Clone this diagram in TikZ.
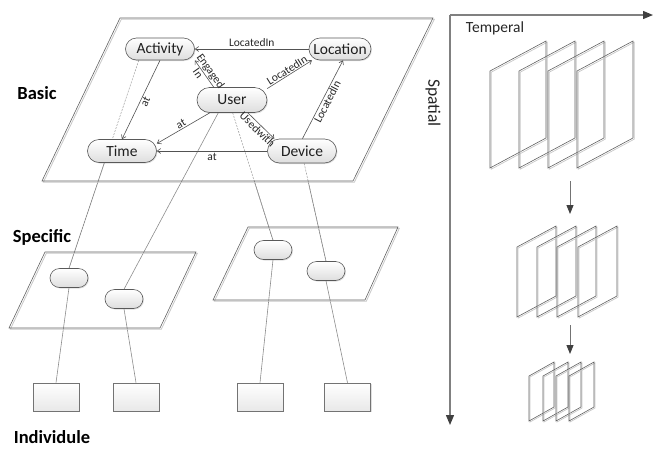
\documentclass[tikz,border=0pt]{standalone}
\usepackage{fontspec}
\setmainfont{Carlito}
\usetikzlibrary{arrows.meta,calc,shadows,backgrounds}

\tikzset{
  plane/.style={draw=black!62, line width=0.6pt},
  planeshadow/.style={draw=black!22, line width=0.8pt},
  concept/.style={draw=black!65, line width=0.6pt, top color=white, bottom color=black!13,
    text=black!88, font=\fontsize{15.5}{17}\selectfont, inner sep=0pt,
    drop shadow={opacity=0.25, shadow xshift=1pt, shadow yshift=-1pt}},
  slot/.style={draw=black!65, line width=0.6pt, top color=white, bottom color=black!13,
    minimum width=38pt, minimum height=19pt, rounded corners=9.5pt, inner sep=0pt,
    drop shadow={opacity=0.25, shadow xshift=1pt, shadow yshift=-1pt}},
  leaf/.style={draw=black!55, line width=0.6pt, top color=white, bottom color=black!9,
    minimum width=46pt, minimum height=28pt, inner sep=0pt,
    drop shadow={opacity=0.25, shadow xshift=1.2pt, shadow yshift=-1.2pt}},
  rel/.style={draw=black!68, line width=0.6pt, -{Straight Barb[length=3.5pt,width=5pt]}},
  rellbl/.style={font=\fontsize{11.5}{13}\selectfont, text=black!85, inner sep=0.8pt},
  link/.style={draw=black!45, line width=0.6pt},
  hidden/.style={draw=black!40, line width=0.5pt, dash pattern=on 2pt off 1.2pt},
  tier/.style={font=\bfseries\fontsize{18.5}{20}\selectfont, inner sep=0pt},
  axislbl/.style={font=\fontsize{15.5}{17}\selectfont, text=black!85, inner sep=0pt},
  sheet/.style={draw=black!62, line width=0.6pt},
  sheetshadow/.style={draw=black!22, line width=0.7pt},
  axisline/.style={draw=black!50, line width=1.3pt,
    -{Triangle[length=10pt,width=8pt,color=black!75]}},
  flow/.style={draw=black!55, line width=0.9pt,
    -{Triangle[length=9pt,width=7pt,color=black!75]}},
}

\begin{document}
\begin{tikzpicture}[x=1pt,y=-1pt]
\useasboundingbox (0,0) rectangle (654,448);

% ---------- the three tiers ----------
\node[tier] (basicLbl) at (37,93) {Basic};
\node[tier] (specLbl) at (42,237) {Specific};
\node[tier] (indLbl) at (52,437) {Individule};

% planes (drawn first, with a faint offset edge)
\draw[planeshadow] (121.3,19.3) -- (434.3,19.3) -- (354.3,182.3) -- (43.3,182.3) -- cycle;
\draw[plane] (120,18) -- (433,18) -- (353,181) -- (42,181) -- cycle;
\draw[planeshadow] (46.3,253.3) -- (197.3,253.3) -- (161.3,329.3) -- (10.3,329.3) -- cycle;
\draw[plane] (45,252) -- (196,252) -- (160,328) -- (9,328) -- cycle;
\draw[planeshadow] (249.3,228.3) -- (399.3,228.3) -- (366.3,301.3) -- (214.3,301.3) -- cycle;
\draw[plane] (248,227) -- (398,227) -- (365,300) -- (213,300) -- cycle;

% basic concepts
\node[concept, minimum width=69pt, minimum height=22pt, rounded corners=11pt] (Act) at (160,49) {Activity};
\node[concept, minimum width=62pt, minimum height=22pt, rounded corners=11pt] (Loc) at (340,49) {Location};
\node[concept, minimum width=70pt, minimum height=25pt, rounded corners=12.5pt] (Usr) at (232,100) {User};
\node[concept, minimum width=69pt, minimum height=23pt, rounded corners=11.5pt] (Tim) at (122,151) {Time};
\node[concept, minimum width=69pt, minimum height=24pt, rounded corners=12pt] (Dev) at (302,151) {Device};

% specific slots
\node[slot] (S1) at (69,278) {};
\node[slot] (S2) at (124,299) {};
\node[slot] (R1) at (273,250) {};
\node[slot] (R2) at (326,271) {};

% individual instances
\node[leaf] (B1) at (56,397) {};
\node[leaf] (B2) at (136,397) {};
\node[leaf] (B3) at (260,397) {};
\node[leaf] (B4) at (347.5,397) {};

% links between tiers, kept behind the nodes
\begin{scope}[on background layer]
  \draw[hidden] (Act.208) -- (S1.north);
  \draw[link] ($(Act.208)!0.494!(S1.north)$) -- (S1.north);
  \draw[link] (Usr.223) -- (S2.north);
  \draw[hidden] (Usr.-87) -- (R1.north);
  \draw[link] ($(Usr.-87)!0.535!(R1.north)$) -- (R1.north);
  \draw[hidden] (Dev.-80) -- (R2.north);
  \draw[link] ($(Dev.-80)!0.18!(R2.north)$) -- (R2.north);
  \draw[link] (S1.south) -- (B1.north);
  \draw[link] (S2.south) -- (B2.north);
  \draw[link] (R1.south) -- (B3.north);
  \draw[link] (R2.south) -- (B4.north);
\end{scope}

% relations among basic concepts
\draw[rel] (Loc.180) -- node[rellbl, above=1pt] {LocatedIn} (Act.0);
\draw[rel] (Usr.145) -- node[rellbl, sloped, above, pos=0.45] {Engaged} node[rellbl, sloped, below, pos=0.62] {In} (Act.-18);
\draw[rel] (Usr.18) -- node[rellbl, sloped, above] {LocatedIn} (Loc.202);
\draw[rel] (Act.-90) -- node[rellbl, sloped, below] {at} (Tim.90);
\draw[rel] (Usr.210) -- node[rellbl, sloped, above] {at} (Tim.12);
\draw[rel] (Usr.-39) -- node[rellbl, sloped, below] {Usedwith} (Dev.156);
\draw[rel] (Dev.180) -- node[rellbl, below=1pt] {at} (Tim.0);
\draw[rel] (Dev.88) -- node[rellbl, sloped, below] {LocatedIn} (Loc.-75);

% ---------- spatial / temporal panel ----------
\coordinate (O) at (450,15);
\coordinate (TX) at (653,15);
\coordinate (SY) at (450,425);
\draw[axisline] (O) -- (TX);
\draw[axisline] (O) -- (SY);
\node[axislbl] (tempLbl) at (495,28) {Temperal};
\node[axislbl, font=\fontsize{17.5}{19}\selectfont, rotate=-90] (spatLbl) at (433,103) {Spatial};

% large stack of sheets
\foreach \lx in {490,519,548,577} {
  \draw[sheetshadow] (\lx+1.2,72.2) -- ++(56,-30) -- ++(0,97) -- ++(-56,30) -- cycle;
  \draw[sheet] (\lx,71) -- ++(56,-30) -- ++(0,97) -- ++(-56,30) -- cycle;
}
% medium stack
\foreach \lx in {517,537,557,578} {
  \draw[sheetshadow] (\lx+1.1,248.1) -- ++(39,-21) -- ++(0,70) -- ++(-39,21) -- cycle;
  \draw[sheet] (\lx,247) -- ++(39,-21) -- ++(0,70) -- ++(-39,21) -- cycle;
}
% small stack
\foreach \lx in {529,543,556,569} {
  \draw[sheetshadow] (\lx+1,377) -- ++(25,-14) -- ++(0,45) -- ++(-25,14) -- cycle;
  \draw[sheet] (\lx,376) -- ++(25,-14) -- ++(0,45) -- ++(-25,14) -- cycle;
}

% reduction steps
\coordinate (f1a) at (570,181);
\coordinate (f1b) at (570,214);
\coordinate (f2a) at (570,325);
\coordinate (f2b) at (570,354);
\draw[flow] (f1a) -- (f1b);
\draw[flow] (f2a) -- (f2b);
\end{tikzpicture}
\end{document}
